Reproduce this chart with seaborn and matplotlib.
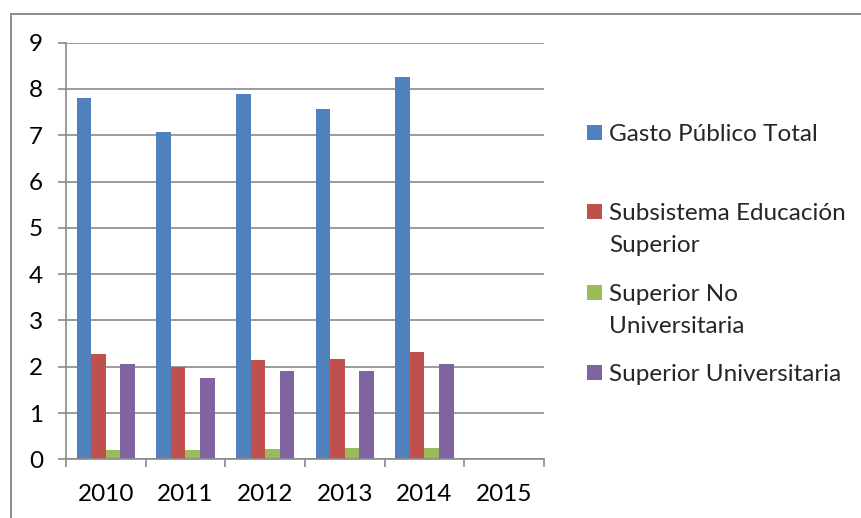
import numpy as np
import pandas as pd
import matplotlib
matplotlib.use("Agg")
import matplotlib.pyplot as plt
import seaborn as sns

sns.set_theme(style="white")
plt.rcParams["font.family"] = ["Lato", "DejaVu Sans"]

years = ["2010", "2011", "2012", "2013", "2014", "2015"]
series = ["Gasto Público Total", "Subsistema Educación\nSuperior",
          "Superior No\nUniversitaria", "Superior Universitaria"]
gasto_total = [7.80, 7.07, 7.90, 7.57, 8.26, np.nan]
subsistema = [2.28, 1.99, 2.14, 2.16, 2.31, np.nan]
no_univ = [0.21, 0.21, 0.22, 0.24, 0.25, np.nan]
univ = [2.06, 1.75, 1.91, 1.90, 2.06, np.nan]
colors = ["#4F81BD", "#C0504D", "#9BBB59", "#8064A2"]

rows = []
for name, vals in zip(series, [gasto_total, subsistema, no_univ, univ]):
    for y, v in zip(years, vals):
        rows.append({"year": y, "serie": name, "valor": v})
df = pd.DataFrame(rows)

GRID = "#8a8a8a"
FS = 17.5

fig = plt.figure(figsize=(8.62, 5.18), dpi=100)
ax = fig.add_axes([66 / 862, 1 - 459.3 / 518, (544 - 66) / 862, (459.3 - 42.7) / 518])

sns.barplot(data=df, x="year", y="valor", hue="serie", order=years,
            hue_order=series, palette=colors, saturation=1, width=0.73,
            linewidth=0, ax=ax, legend=True)

handles = ax.legend_.legend_handles
labels = [t.get_text() for t in ax.legend_.texts]
ax.legend_.remove()

ax.set_ylim(0, 9)
ax.set_xlim(-0.5, 5.5)
ax.set_yticks(range(0, 10))
ax.yaxis.grid(True, color=GRID, linewidth=1.2)
ax.set_axisbelow(True)
ax.set_xlabel("")
ax.set_ylabel("")
for s in ["top", "right"]:
    ax.spines[s].set_visible(False)
for s in ["left", "bottom"]:
    ax.spines[s].set_color(GRID)
    ax.spines[s].set_linewidth(1.2)

ax.tick_params(axis="y", left=True, length=5.5, width=1.2, color=GRID,
               pad=11, labelsize=FS, labelcolor="black")
ax.tick_params(axis="x", which="major", length=0, pad=18, labelsize=FS,
               labelcolor="black")
ax.set_xticks(np.arange(-0.5, 6, 1), minor=True)
ax.tick_params(axis="x", which="minor", bottom=True, length=5.5, width=1.2,
               color=GRID)

# leyenda a la derecha: cuadro alineado con la primera linea del texto
ys = [134.5, 213.5, 294.5, 374.5]
fig.canvas.draw()
renderer = fig.canvas.get_renderer()
for h, lab, yy in zip(handles, labels, ys):
    lines = lab.split("\n")
    leg = fig.legend([h], [lines[0]], loc="center left",
                     bbox_to_anchor=(586.7 / 862, 1 - yy / 518), frameon=False,
                     borderpad=0, borderaxespad=0, handlelength=0.62,
                     handleheight=0.62, handletextpad=0.3, fontsize=FS)
    for p in leg.legend_handles:
        p.set_linewidth(0)
    if len(lines) > 1:
        fig.canvas.draw()
        x0 = leg.get_texts()[0].get_window_extent(renderer).x0
        fig.text(x0 / 862, 1 - (yy + 32) / 518, lines[1], fontsize=FS,
                 va="center", ha="left")

fig.add_artist(plt.Rectangle((11.5 / 862, -0.2), 1.2, 1.2 - 14 / 518,
                             transform=fig.transFigure, fill=False,
                             edgecolor="#8c8c8c", linewidth=1.4))

plt.savefig("out.png", dpi=100)
plt.close()
